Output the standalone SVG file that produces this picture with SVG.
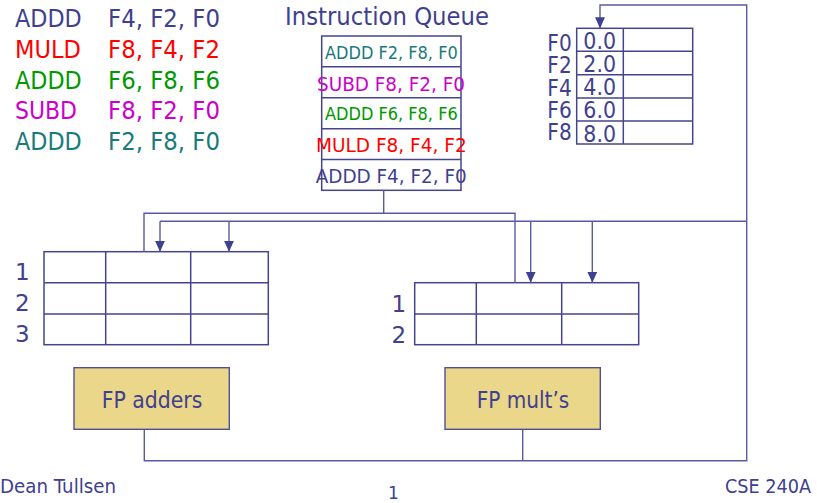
<svg xmlns="http://www.w3.org/2000/svg" width="817" height="503" viewBox="0 0 817 503">
<style>
text{font-family:"DejaVu Sans","Liberation Sans",sans-serif;fill:#404090}
.g{fill:none;stroke:#45458F;stroke-width:1.5}
.c{fill:none;stroke:#5A5AA0;stroke-width:1.4}
.fu{fill:#EBD78A;stroke:#50509A;stroke-width:1.4}
.blue{fill:#404090}.red{fill:#FF0000}.green{fill:#009900}.mag{fill:#CC00CC}.teal{fill:#1A7A7A}
</style>
<defs>
<marker id="ah" markerUnits="userSpaceOnUse" markerWidth="11" markerHeight="10" refX="11" refY="5" orient="auto" viewBox="0 0 11 10">
<path d="M0,0 L11,5 L0,10 Z" fill="#404090"/>
</marker>
</defs>

<g id="program" font-size="24">
<text x="15" y="27.3" class="blue" textLength="66.7" lengthAdjust="spacingAndGlyphs">ADDD</text>
<text x="108" y="27.3" class="blue" textLength="112" lengthAdjust="spacingAndGlyphs">F4, F2, F0</text>
<text x="15" y="58" class="red" textLength="66" lengthAdjust="spacingAndGlyphs">MULD</text>
<text x="108" y="58" class="red" textLength="112" lengthAdjust="spacingAndGlyphs">F8, F4, F2</text>
<text x="15" y="88.7" class="green" textLength="66.7" lengthAdjust="spacingAndGlyphs">ADDD</text>
<text x="108" y="88.7" class="green" textLength="112" lengthAdjust="spacingAndGlyphs">F6, F8, F6</text>
<text x="15" y="119.3" class="mag" textLength="62" lengthAdjust="spacingAndGlyphs">SUBD</text>
<text x="108" y="119.3" class="mag" textLength="112" lengthAdjust="spacingAndGlyphs">F8, F2, F0</text>
<text x="15" y="150" class="teal" textLength="66.7" lengthAdjust="spacingAndGlyphs">ADDD</text>
<text x="108" y="150" class="teal" textLength="112" lengthAdjust="spacingAndGlyphs">F2, F8, F0</text>
</g>

<g id="instruction-queue">
<text x="285" y="25" font-size="25" textLength="204" lengthAdjust="spacingAndGlyphs">Instruction Queue</text>
<rect class="g" x="321.7" y="36" width="139.3" height="154.3"/>
<line class="g" x1="321.7" y1="66.8" x2="461" y2="66.8"/>
<line class="g" x1="321.7" y1="97.7" x2="461" y2="97.7"/>
<line class="g" x1="321.7" y1="128.7" x2="461" y2="128.7"/>
<line class="g" x1="321.7" y1="159.4" x2="461" y2="159.4"/>
<text x="325" y="59.3" font-size="18" class="teal" textLength="132.7" lengthAdjust="spacingAndGlyphs">ADDD F2, F8, F0</text>
<text x="317" y="90.7" font-size="20" class="mag" textLength="148" lengthAdjust="spacingAndGlyphs">SUBD F8, F2, F0</text>
<text x="325" y="120" font-size="18" class="green" textLength="132.7" lengthAdjust="spacingAndGlyphs">ADDD F6, F8, F6</text>
<text x="316" y="152" font-size="20" class="red" textLength="150.7" lengthAdjust="spacingAndGlyphs">MULD F8, F4, F2</text>
<text x="315.7" y="182.7" font-size="20" class="blue" textLength="151" lengthAdjust="spacingAndGlyphs">ADDD F4, F2, F0</text>
</g>

<g id="register-file">
<rect class="g" x="576.7" y="28.3" width="116" height="115.7"/>
<line class="g" x1="623.3" y1="28.3" x2="623.3" y2="144"/>
<line class="g" x1="576.7" y1="51.3" x2="692.7" y2="51.3"/>
<line class="g" x1="576.7" y1="74.7" x2="692.7" y2="74.7"/>
<line class="g" x1="576.7" y1="98" x2="692.7" y2="98"/>
<line class="g" x1="576.7" y1="121" x2="692.7" y2="121"/>
<g font-size="23">
<text x="547.3" y="51" textLength="24.4" lengthAdjust="spacingAndGlyphs">F0</text>
<text x="547.3" y="73.3" textLength="24.4" lengthAdjust="spacingAndGlyphs">F2</text>
<text x="547.3" y="95.7" textLength="24.4" lengthAdjust="spacingAndGlyphs">F4</text>
<text x="547.3" y="118" textLength="24.4" lengthAdjust="spacingAndGlyphs">F6</text>
<text x="547.3" y="139.5" textLength="24.4" lengthAdjust="spacingAndGlyphs">F8</text>
<text x="583.3" y="49.3" textLength="32.7" lengthAdjust="spacingAndGlyphs">0.0</text>
<text x="583.3" y="72.3" textLength="32.7" lengthAdjust="spacingAndGlyphs">2.0</text>
<text x="583.3" y="95.3" textLength="32.7" lengthAdjust="spacingAndGlyphs">4.0</text>
<text x="583.3" y="118.3" textLength="32.7" lengthAdjust="spacingAndGlyphs">6.0</text>
<text x="583.3" y="141.5" textLength="32.7" lengthAdjust="spacingAndGlyphs">8.0</text>
</g>
</g>

<g id="adder-stations">
<rect class="g" x="44" y="251.7" width="224.3" height="93"/>
<line class="g" x1="105.7" y1="251.7" x2="105.7" y2="344.7"/>
<line class="g" x1="190.7" y1="251.7" x2="190.7" y2="344.7"/>
<line class="g" x1="44" y1="282.7" x2="268.3" y2="282.7"/>
<line class="g" x1="44" y1="314" x2="268.3" y2="314"/>
<g font-size="23">
<text x="15" y="280">1</text>
<text x="15" y="311">2</text>
<text x="15" y="341.7">3</text>
</g>
</g>

<g id="mult-stations">
<rect class="g" x="414.7" y="282.7" width="224" height="62"/>
<line class="g" x1="476.3" y1="282.7" x2="476.3" y2="344.7"/>
<line class="g" x1="561.7" y1="282.7" x2="561.7" y2="344.7"/>
<line class="g" x1="414.7" y1="314" x2="638.7" y2="314"/>
<g font-size="23">
<text x="391.5" y="311.7">1</text>
<text x="391.5" y="342.7">2</text>
</g>
</g>

<g id="fp-adders">
<rect class="fu" x="74" y="367.7" width="155.3" height="61.6"/>
<text x="101.7" y="408.3" font-size="23" textLength="100.6" lengthAdjust="spacingAndGlyphs">FP adders</text>
</g>

<g id="fp-mults">
<rect class="fu" x="445" y="367.7" width="155.3" height="61.6"/>
<text x="476.7" y="408.3" font-size="23" textLength="92.6" lengthAdjust="spacingAndGlyphs">FP mult’s</text>
</g>

<g id="connectors">
<polyline class="c" points="383.7,190.3 383.7,213.3"/>
<polyline class="c" points="144,251.7 144,213.3 515,213.3 515,282.7"/>
<polyline class="c" points="160,221.3 746.7,221.3"/>
<line class="c" x1="160" y1="221.3" x2="160" y2="251.7" marker-end="url(#ah)"/>
<line class="c" x1="229" y1="221.3" x2="229" y2="251.7" marker-end="url(#ah)"/>
<line class="c" x1="530.7" y1="221.3" x2="530.7" y2="282.7" marker-end="url(#ah)"/>
<line class="c" x1="592.3" y1="221.3" x2="592.3" y2="282.7" marker-end="url(#ah)"/>
<polyline class="c" points="144.3,429.3 144.3,460.7 746.7,460.7 746.7,5 600,5 600,28.3" marker-end="url(#ah)"/>
<line class="c" x1="522.7" y1="429.3" x2="522.7" y2="460.7"/>
</g>

<g id="footer">
<text x="0" y="493.3" font-size="20" textLength="116" lengthAdjust="spacingAndGlyphs">Dean Tullsen</text>
<text x="388" y="498.5" font-size="17">1</text>
<text x="725" y="493.3" font-size="20" textLength="86" lengthAdjust="spacingAndGlyphs">CSE 240A</text>
</g>
</svg>
